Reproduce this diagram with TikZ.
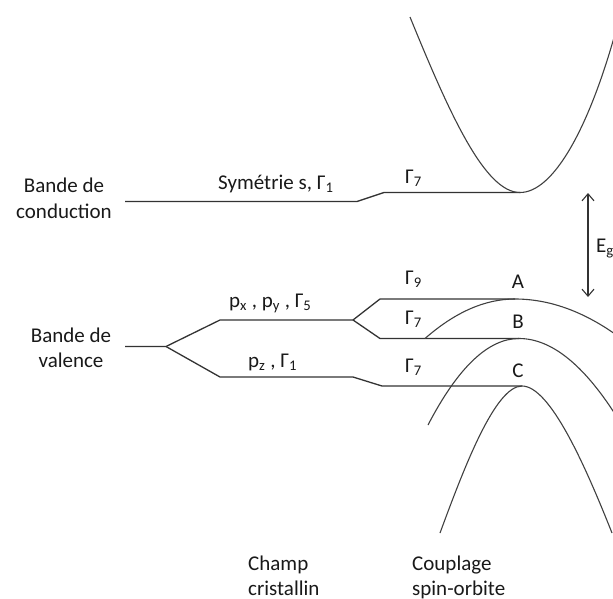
\documentclass[tikz,border=0pt]{standalone}
\usepackage{fontspec}
\setmainfont{Carlito}
\usetikzlibrary{arrows.meta}
\begin{document}
\begin{tikzpicture}[x=1pt,y=-1pt,
  lvl/.style={line width=1.3pt, draw=black!80, line join=round},
  band/.style={line width=1.1pt, draw=black!75},
  lbl/.style={font=\fontsize{21}{25}\selectfont, text=black!90, inner sep=0pt},
  gap/.style={line width=1.1pt, draw=black!80, {Straight Barb[length=7pt,width=12pt]}-{Straight Barb[length=7pt,width=12pt]}}]
\useasboundingbox (0,0) rectangle (613,599);
\clip (0,0) rectangle (613,599);
% level points
\coordinate (c0) at (125,201.5);
\coordinate (c1) at (357,201.5);
\coordinate (c2) at (384,192.5);
\coordinate (cv) at (520,192.5);
\coordinate (cl) at (410,17);
\coordinate (cr) at (615,34);
\coordinate (v0) at (125,346.5);
\coordinate (v1) at (166,346.5);
\coordinate (p5a) at (220,320);
\coordinate (p5b) at (353,320);
\coordinate (p1a) at (220,377);
\coordinate (p1b) at (353,377);
\coordinate (g9) at (380,299);
\coordinate (g7m) at (380,338.5);
\coordinate (g7l) at (382,386);
\coordinate (Av) at (515,299);
\coordinate (Al) at (425,338.5);
\coordinate (Ar) at (615,334);
\coordinate (Bv) at (519,338.5);
\coordinate (Bl) at (428,425);
\coordinate (Br) at (615,414);
\coordinate (Cv) at (522,386);
\coordinate (Cl) at (440,533);
\coordinate (Cr) at (612,533);
\coordinate (e1) at (588,193);
\coordinate (e2) at (588,297);
% conduction
\draw[lvl] (c0) -- (c1) -- (c2) -- (cv);
\draw[band] (cl) .. controls (450,115) and (485,192.5) .. (cv) .. controls (553,192.5) and (588,130) .. (cr);
% valence
\draw[lvl] (v0) -- (v1) -- (p5a) -- (p5b) -- (g9) -- (Av);
\draw[lvl] (p5b) -- (g7m) -- (Bv);
\draw[lvl] (v1) -- (p1a) -- (p1b) -- (g7l) -- (Cv);
\draw[band] (Al) .. controls (455,312.2) and (485,299) .. (Av) .. controls (548.3,299) and (581.7,310.7) .. (Ar);
\draw[band] (Bl) .. controls (458,367.3) and (488.3,338.5) .. (Bv) .. controls (551,338.5) and (583,364.3) .. (Br);
\draw[band] (Cl) .. controls (464,468) and (495,386) .. (Cv) .. controls (550,386) and (585,465) .. (Cr);
% gap
\draw[gap] (e1) -- (e2);
% labels
\node[lbl, anchor=base] (bc1) at (64,193) {Bande de};
\node[lbl, anchor=base] (bc2) at (64,218) {conduction};
\node[lbl, anchor=base] (bv1) at (71,342) {Bande de};
\node[lbl, anchor=base] (bv2) at (71,367) {valence};
\node[lbl, anchor=base west] (sym) at (218,189) {Symétrie s, Γ\textsubscript{1}};
\node[lbl, anchor=base west] (gc) at (405,183) {Γ\textsubscript{7}};
\node[lbl, anchor=base west] (p5) at (229,307) {p\textsubscript{x} , p\textsubscript{y} , Γ\textsubscript{5}};
\node[lbl, anchor=base west] (p1) at (248,367) {p\textsubscript{z} ,  Γ\textsubscript{1}};
\node[lbl, anchor=base west] (g9l) at (405,284) {Γ\textsubscript{9}};
\node[lbl, anchor=base west] (g7ml) at (405,324) {Γ\textsubscript{7}};
\node[lbl, anchor=base west] (g7ll) at (405,372) {Γ\textsubscript{7}};
\node[lbl, anchor=base] (A) at (518,288) {A};
\node[lbl, anchor=base] (B) at (518,328) {B};
\node[lbl, anchor=base] (C) at (518,377) {C};
\node[lbl, anchor=base west] (eg) at (596,252) {E\textsubscript{g}};
\node[lbl, anchor=base west] (ch1) at (248,570) {Champ};
\node[lbl, anchor=base west] (ch2) at (248,595) {cristallin};
\node[lbl, anchor=base west] (co1) at (412,570) {Couplage};
\node[lbl, anchor=base west] (co2) at (412,595) {spin-orbite};
\end{tikzpicture}
\end{document}
